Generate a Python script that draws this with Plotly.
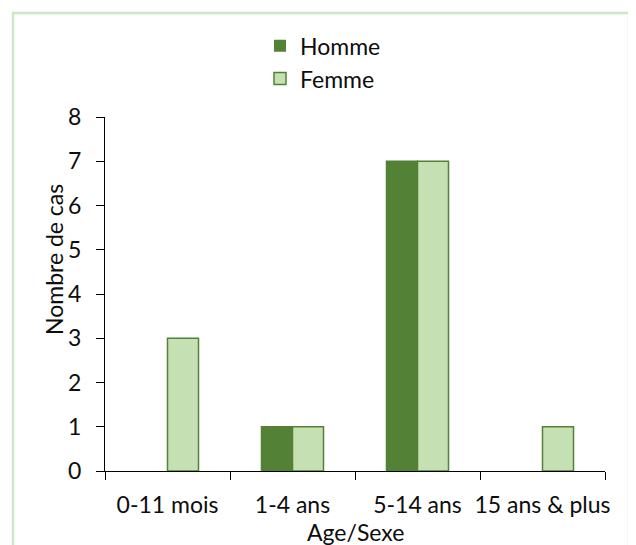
import plotly.graph_objects as go

categories = ["0-11 mois", "1-4 ans", "5-14 ans", "15 ans & plus"]
homme = [0, 1, 7, 0]
femme = [3, 1, 7, 1]
y_ticks = [0, 1, 2, 3, 4, 5, 6, 7, 8]
x_title = "Age/Sexe"
y_title = "Nombre de cas"

FONT = "Lato, Carlito, Calibri, sans-serif"
DARK = "#538135"
LIGHT = "#C5E0B3"
TXT = "#0d0d0d"

# The page body has an 8px default margin, so the figure is drawn 8px smaller
W, H = 628, 537

fig = go.Figure()
fig.add_trace(go.Bar(name="Homme", x=categories, y=homme,
                     marker=dict(color=DARK, line=dict(color=DARK,
                                 width=[1.5 if v else 0 for v in homme]))))
fig.add_trace(go.Bar(name="Femme", x=categories, y=femme,
                     marker=dict(color=LIGHT, line=dict(color=DARK,
                                 width=[1.5 if v else 0 for v in femme]))))

fig.update_layout(
    width=W, height=H,
    margin=dict(l=97, r=31, t=109, b=74, autoexpand=False),
    paper_bgcolor="white", plot_bgcolor="white",
    font=dict(family=FONT, size=23, color=TXT),
    barmode="group", bargap=0.504, bargroupgap=0,
    showlegend=True,
    legend=dict(x=0.31, y=1.262, xanchor="left", yanchor="top",
                orientation="v", font=dict(size=23, color=TXT),
                bgcolor="rgba(0,0,0,0)", tracegroupgap=0, itemclick=False),
    xaxis=dict(type="category", categoryorder="array", categoryarray=categories,
               showline=True, linecolor="black", linewidth=1,
               ticks="outside", ticklen=8, tickcolor="black", tickwidth=1,
               tickson="boundaries", showgrid=False, zeroline=False,
               tickangle=0, automargin=False,
               tickfont=dict(size=23, color=TXT), ticklabelstandoff=13),
    xaxis2=dict(overlaying="x", anchor="y", side="bottom", range=[-0.5, 3.5],
                tickvals=[-0.5, 0.5, 1.5, 2.5, 3.5], ticks="inside", ticklen=9,
                tickcolor="black", tickwidth=1, showticklabels=False,
                showline=False, showgrid=False, zeroline=False, automargin=False),
    yaxis=dict(range=[0, 8], tickvals=y_ticks, showline=True, linecolor="black",
               linewidth=1, ticks="outside", ticklen=8, tickcolor="black",
               showgrid=False, zeroline=False, tickfont=dict(size=23, color=TXT),
               ticklabelstandoff=10, automargin=False),
    annotations=[
        dict(text=y_title, xref="paper", yref="paper", x=-0.102, y=0.596,
             xanchor="center", yanchor="middle", textangle=-90, showarrow=False,
             font=dict(size=23, color=TXT)),
        dict(text=x_title, xref="paper", yref="paper", x=0.5, y=-0.172,
             xanchor="center", yanchor="middle", showarrow=False,
             font=dict(size=23, color=TXT)),
    ],
    shapes=[dict(type="rect", xref="paper", yref="paper",
                 x0=-0.184, x1=1.048, y0=-0.25, y1=1.294,
                 line=dict(color="#CBE8C1", width=2.5), fillcolor="rgba(0,0,0,0)",
                 layer="below")],
)

fig.write_html("out.html")
